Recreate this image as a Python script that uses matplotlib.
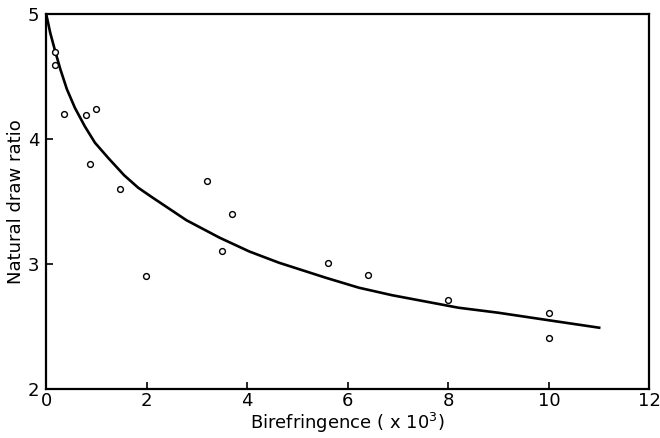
import matplotlib
matplotlib.use("Agg")
import matplotlib.pyplot as plt

# measured points
biref = [0.18, 0.17, 0.36, 0.80, 1.00, 0.87, 1.47, 1.98, 3.20, 3.50, 3.70,
         5.60, 6.40, 8.00, 10.00, 10.00]
draw_ratio = [4.70, 4.59, 4.20, 4.19, 4.24, 3.80, 3.60, 2.90, 3.66, 3.10, 3.40,
              3.01, 2.91, 2.71, 2.61, 2.41]

# fitted curve
curve_x = [0.0, 0.08, 0.18, 0.28, 0.41, 0.57, 0.77, 0.97, 1.23, 1.55, 1.83,
           2.12, 2.79, 3.45, 4.04, 4.63, 5.56, 6.22, 6.88, 7.54, 8.20, 8.99,
           9.99, 11.0]
curve_y = [5.0, 4.85, 4.70, 4.56, 4.40, 4.25, 4.10, 3.97, 3.85, 3.71, 3.61,
           3.53, 3.35, 3.21, 3.10, 3.01, 2.89, 2.81, 2.75, 2.70, 2.65, 2.61,
           2.55, 2.49]

x_ticks = [0, 2, 4, 6, 8, 10, 12]
y_ticks = [2, 3, 4, 5]

plt.rcParams['font.family'] = ['DejaVu Sans']

fig = plt.figure(figsize=(6.6, 4.38), dpi=100)
ax = fig.add_axes([0.07, 0.112, 0.914, 0.856])

ax.plot(curve_x, curve_y, color='black', lw=1.9, solid_joinstyle='round')
ax.plot(biref, draw_ratio, 'o', ms=4.2, mfc='white', mec='black', mew=1.0)

ax.set_xlim(0, 12)
ax.set_ylim(2, 5)
ax.set_xticks(x_ticks)
ax.set_yticks(y_ticks)
ax.tick_params(direction='in', length=5, width=1.2, labelsize=13)
ax.tick_params(axis='x', pad=2)
ax.tick_params(axis='y', pad=5)
for s in ax.spines.values():
    s.set_linewidth(1.6)

ax.set_xlabel('Birefringence ( x 10$^3$)', fontsize=13, labelpad=1)
ax.set_ylabel('Natural draw ratio', fontsize=13, labelpad=2)

fig.savefig('out.png', dpi=100)
